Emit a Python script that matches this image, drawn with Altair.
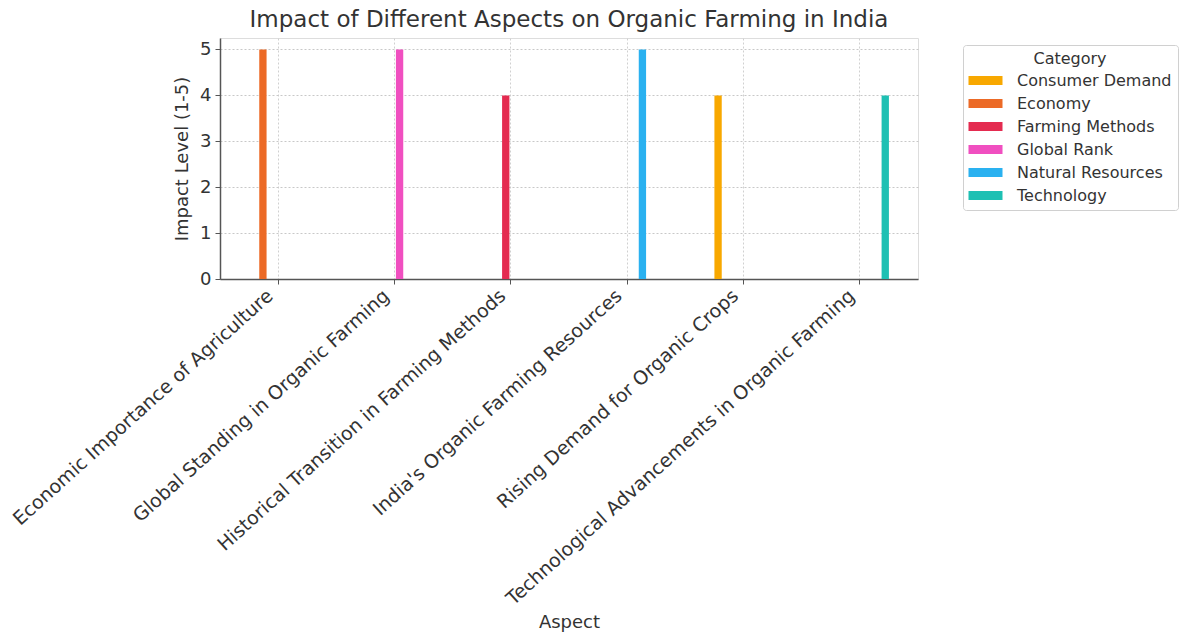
import altair as alt
import pandas as pd

aspects = [
    "Economic Importance of Agriculture",
    "Global Standing in Organic Farming",
    "Historical Transition in Farming Methods",
    "India's Organic Farming Resources",
    "Rising Demand for Organic Crops",
    "Technological Advancements in Organic Farming",
]
categories_of_aspect = [
    "Economy",
    "Global Rank",
    "Farming Methods",
    "Natural Resources",
    "Consumer Demand",
    "Technology",
]
impact = [5, 5, 4, 5, 4, 4]

category_order = [
    "Consumer Demand",
    "Economy",
    "Farming Methods",
    "Global Rank",
    "Natural Resources",
    "Technology",
]
category_colors = ["#F8A800", "#EC6A26", "#E42B50", "#F04FC0", "#2AB1F0", "#1EC0B3"]

df = pd.DataFrame({"Aspect": aspects, "Category": categories_of_aspect, "Impact": impact})

FONT = "DejaVu Sans"
TXT = "#333333"

chart = (
    alt.Chart(df)
    .mark_bar()
    .encode(
        x=alt.X(
            "Aspect:N",
            sort=aspects,
            scale=alt.Scale(paddingInner=0.5, paddingOuter=0.25),
            axis=alt.Axis(
                title="Aspect",
                labelAngle=-42,
                labelAlign="right",
                labelBaseline="top",
                labelFontSize=19,
                labelLimit=0,
                labelOffset=-14,
                labelColor=TXT,
                labelFont=FONT,
                titleFont=FONT,
                titleFontSize=18,
                titleFontWeight="normal",
                titleColor=TXT,
                titleY=343,
                titleBaseline="middle",
                grid=True,
                gridDash=[2, 2],
                gridColor="#d0d0d0",
                bandPosition=0.5,
                domainColor="#555555",
                domainWidth=1.5,
                tickColor="#555555",
                tickSize=5,
                labelPadding=2,
            ),
        ),
        xOffset=alt.XOffset(
            "Category:N",
            sort=category_order,
            scale=alt.Scale(domain=category_order, paddingInner=0.28),
        ),
        y=alt.Y(
            "Impact:Q",
            scale=alt.Scale(domain=[0, 5.25], nice=False),
            axis=alt.Axis(
                title="Impact Level (1-5)",
                values=[0, 1, 2, 3, 4, 5],
                format="d",
                labelFontSize=18,
                labelColor=TXT,
                labelFont=FONT,
                titleFont=FONT,
                titleFontSize=18,
                titleFontWeight="normal",
                titleColor=TXT,
                titlePadding=8,
                grid=True,
                gridDash=[2, 2],
                gridColor="#c8c8c8",
                domainColor="#555555",
                domainWidth=1.5,
                tickColor="#555555",
                tickSize=5,
                labelPadding=4,
            ),
        ),
        color=alt.Color(
            "Category:N",
            sort=category_order,
            scale=alt.Scale(domain=category_order, range=category_colors),
            legend=alt.Legend(
                title="Category",
                orient="none",
                legendX=743,
                legendY=7,
                titleAnchor="middle",
                titleFont=FONT,
                titleFontSize=16,
                titleFontWeight="normal",
                titleColor=TXT,
                labelFont=FONT,
                labelFontSize=16,
                labelLimit=0,
                labelColor=TXT,
                symbolType="M-2,-0.53H2V0.53H-2Z",
                symbolSize=289,
                symbolStrokeWidth=0,
                symbolOpacity=1,
                symbolOffset=8,
                labelOffset=23,
                rowPadding=6,
                padding=6,
                strokeColor="#d0d0d0",
                cornerRadius=3,
                fillColor="white",
            ),
        ),
    )
    .properties(
        width=698,
        height=241,
        title=alt.TitleParams(
            "Impact of Different Aspects on Organic Farming in India",
            font=FONT,
            fontSize=23,
            fontWeight="normal",
            color=TXT,
            anchor="middle",
            offset=6,
        ),
        autosize=alt.AutoSizeParams(type="none"),
        padding={"left": 220, "top": 38, "right": 265, "bottom": 353},
    )
    .configure_view(stroke=None)
    .configure(background="white")
)

chart.save("out.html", embed_options={"renderer": "svg", "actions": False})
